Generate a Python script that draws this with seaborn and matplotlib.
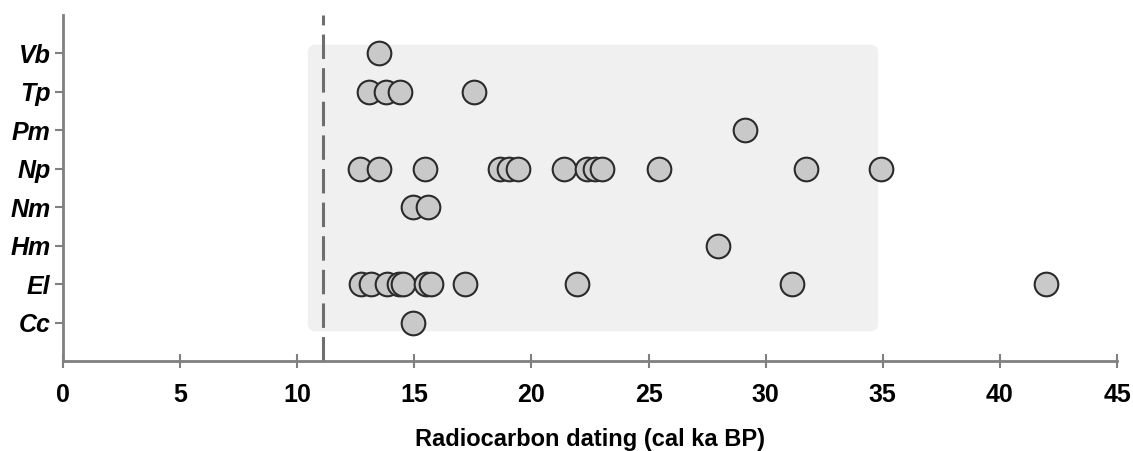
import matplotlib
matplotlib.use("Agg")
import matplotlib.pyplot as plt
from matplotlib.patches import FancyBboxPatch
import seaborn as sns
import pandas as pd

# taxa, top to bottom
TAXA = ["Vb", "Tp", "Pm", "Np", "Nm", "Hm", "El", "Cc"]

# radiocarbon ages (cal ka BP)
VB = [13.5]
TP = [13.07, 13.8, 14.4, 17.55]
PM = [29.1]
NP = [12.68, 13.5, 15.46, 18.66, 19.04, 19.44, 21.4, 22.39, 22.72, 23.0, 25.45, 31.71, 34.91]
NM = [14.93, 15.6]
HM = [27.95]
EL = [12.72, 13.15, 13.82, 14.35, 14.5, 15.5, 15.7, 17.17, 21.96, 31.14, 41.97]
CC = [14.96]

XTICKS = [0, 5, 10, 15, 20, 25, 30, 35, 40, 45]
YD_BOUNDARY = 11.1           # dashed line
SHADE_X = (10.45, 34.8)      # shaded window


def build_frame():
    rows = []
    for name, ages in zip(TAXA, [VB, TP, PM, NP, NM, HM, EL, CC]):
        for a in ages:
            rows.append({"taxon": name, "age": a})
    return pd.DataFrame(rows)


def main():
    sns.set_theme(style="white")
    plt.rcParams["font.family"] = ["Liberation Sans", "DejaVu Sans"]

    df = build_frame()

    fig = plt.figure(figsize=(11.33, 4.51), dpi=100)
    ax = fig.add_axes([0.0556, 0.1996, 0.9303, 0.7671])

    # grey window behind the points
    box = FancyBboxPatch((SHADE_X[0], -0.23), SHADE_X[1] - SHADE_X[0], 7.46,
                         boxstyle="round,pad=0,rounding_size=0.35",
                         mutation_aspect=0.6,
                         facecolor="#f0f0f0", edgecolor="none", zorder=0)
    ax.add_patch(box)

    sns.scatterplot(data=df, x="age", y="taxon", ax=ax, s=290,
                    color="#c9c9c9", edgecolor="#2b2b2b", linewidth=1.5,
                    legend=False, zorder=3)

    ax.axvline(YD_BOUNDARY, color="#6e6e6e", lw=2.2, dashes=(8, 3), zorder=2)

    ax.set_xlim(0, 45)
    ax.set_ylim(len(TAXA), -1)
    ax.set_xticks(XTICKS)
    ax.set_xticklabels([str(t) for t in XTICKS], fontsize=18, fontweight="bold", color="black")
    ax.set_yticks(range(len(TAXA)))
    ax.set_yticklabels(TAXA, fontsize=18, fontweight="bold", style="italic", color="black")
    ax.set_xlabel("Radiocarbon dating (cal ka BP)", fontsize=17, fontweight="bold",
                  color="black", labelpad=15)
    ax.set_ylabel("")

    for side in ["top", "right"]:
        ax.spines[side].set_visible(False)
    for side in ["left", "bottom"]:
        ax.spines[side].set_color("#808080")
        ax.spines[side].set_linewidth(2)
    ax.tick_params(axis="x", bottom=True, direction="inout", length=10, width=1.5,
                   color="#808080", pad=11)
    ax.tick_params(axis="y", left=True, direction="out", length=6, width=1.5,
                   color="#808080", pad=3)
    ax.set_facecolor("white")

    fig.savefig("out.png", dpi=100)
    plt.close(fig)


if __name__ == "__main__":
    main()
